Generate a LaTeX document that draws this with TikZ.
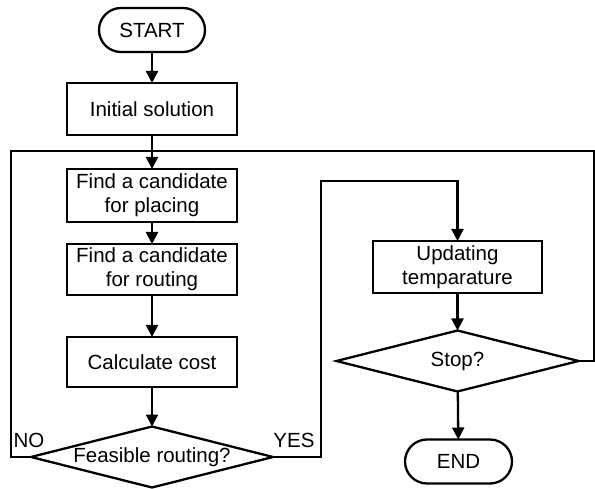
\documentclass[tikz,border=0pt]{standalone}
\usepackage{fontspec}
\setmainfont{Liberation Sans}
\usetikzlibrary{shapes.geometric,arrows.meta}
\begin{document}
\begin{tikzpicture}[x=1pt,y=-1pt,line width=2.3pt,
  txt/.style={font=\fontsize{20.5}{24}\selectfont},
  box/.style={txt,draw,minimum width=170pt,minimum height=52pt,align=center,inner sep=0pt,outer sep=0pt},
  term/.style={txt,draw,rounded corners=22pt,minimum width=106pt,minimum height=44pt,inner sep=0pt,outer sep=0pt},
  dia/.style={txt,draw,diamond,aspect=3.9,minimum width=242pt,minimum height=61pt,inner sep=0pt,outer sep=0pt},
  arr/.style={-{Triangle[length=12pt,width=12pt]}}]
\useasboundingbox (0,0) rectangle (595,489);
\node[term] (start) at (152,30) {START};
\node[box] (init) at (152,109) {Initial solution};
\node[box,minimum height=53pt] (place) at (152,195.5) {Find a candidate\\for placing};
\node[box,minimum height=51pt] (route) at (152,269.5) {Find a candidate\\for routing};
\node[box,minimum height=50pt] (cost) at (152,362) {Calculate cost};
\node[dia] (feas) at (152,457) {Feasible routing?};
\node[box,minimum width=169pt] (upd) at (457.5,267) {Updating\\temparature};
\node[dia] (stop) at (457.5,361) {Stop?};
\node[term,minimum width=107pt] (end) at (458.5,461.5) {END};
\node[txt] (no) at (29,440) {NO};
\node[txt] (yes) at (294,440) {YES};
\coordinate (tl) at (11,151);
\coordinate (tr) at (594,151);
\coordinate (yx) at (321,181);
\draw[arr] (start) -- (init);
\draw[arr] (init) -- (place);
\draw[arr] (place) -- (route);
\draw[arr] (route) -- (cost);
\draw[arr] (cost) -- (feas);
\draw[arr] (upd) -- (stop);
\draw[arr] (stop) -- (end);
\draw (feas.west) -- (feas.west -| tl) -- (tl) -- (tr) -- (stop.east -| tr) -- (stop.east);
\draw[arr] (feas.east) -- (feas.east -| yx) -- (yx) -- (yx -| upd) -- (upd.north);
\end{tikzpicture}
\end{document}
